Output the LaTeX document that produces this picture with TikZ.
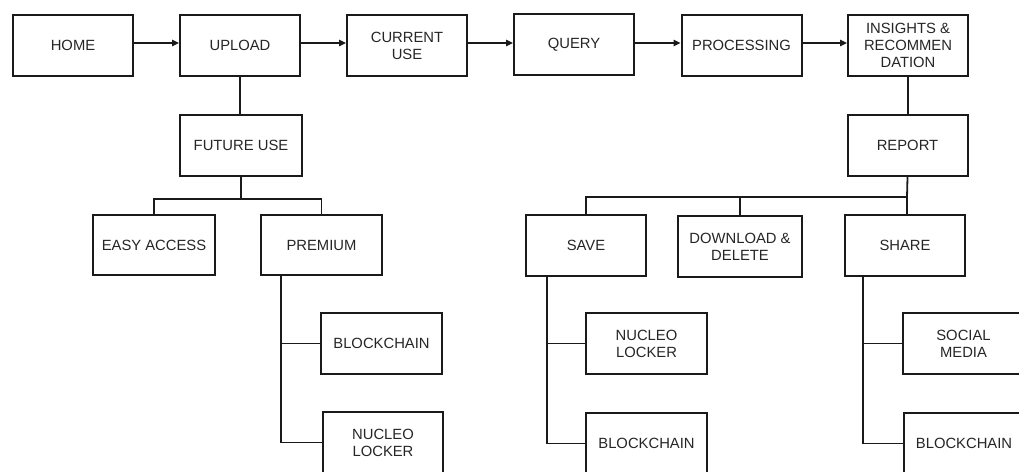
\documentclass[tikz,border=0pt]{standalone}
\usepackage{fontspec}
\setmainfont{Liberation Sans}
\usetikzlibrary{arrows.meta}
\definecolor{ink}{HTML}{1A1A1A}
\definecolor{txt}{HTML}{262626}
\tikzset{
  box/.style={draw=ink, line width=2pt, rectangle, minimum width=120pt, minimum height=61pt,
    inner sep=2pt, align=center, text=txt, font=\fontsize{14.8}{17}\selectfont},
  flow/.style={draw=ink, line width=1.3pt, -{Triangle[length=7pt,width=6.5pt]}},
  tree/.style={draw=ink, line width=1.8pt}
}
\begin{document}
\begin{tikzpicture}[x=1pt,y=-1pt]
\useasboundingbox (0,0) rectangle (1019,471);
\clip (0,0) rectangle (1019,471);
\fill[white] (0,0) rectangle (1019,471);
% top row
\node[box] (home) at (73,45.5) {HOME};
\node[box] (upload) at (240,45.5) {UPLOAD};
\node[box] (current) at (407,45.5) {CURRENT\\USE};
\node[box] (query) at (574,44.5) {QUERY};
\node[box] (proc) at (741.5,45.5) {PROCESSING};
\node[box] (ins) at (908,45.5) {INSIGHTS \&\\RECOMMEN\\DATION};
% second level
\node[box, minimum width=122pt] (future) at (241,145.5) {FUTURE USE};
\node[box] (report) at (907.5,145.5) {REPORT};
% third level left
\node[box, minimum width=122pt, minimum height=60pt] (easy) at (154,245) {EASY ACCESS};
\node[box, minimum width=121pt, minimum height=60pt] (premium) at (321.5,245) {PREMIUM};
% third level right
\node[box] (save) at (586,245.5) {SAVE};
\node[box, minimum width=124pt] (dl) at (740,246.5) {DOWNLOAD \&\\DELETE};
\node[box] (share) at (905,245.5) {SHARE};
% fourth level
\node[box, minimum width=121pt] (bc1) at (381.5,343.5) {BLOCKCHAIN};
\node[box] (nl1) at (383,442.5) {NUCLEO\\LOCKER};
\node[box, minimum width=121pt] (nl2) at (646.5,343.5) {NUCLEO\\LOCKER};
\node[box, minimum width=121pt] (bc2) at (646.5,443.5) {BLOCKCHAIN};
\node[box, minimum width=121pt] (sm) at (963.5,343.5) {SOCIAL\\MEDIA};
\node[box] (bc3) at (964,443.5) {BLOCKCHAIN};
% arrows
\draw[flow] ([yshift=2.5pt]home.east) -- ([yshift=2.5pt]upload.west);
\draw[flow] ([yshift=2.5pt]upload.east) -- ([yshift=2.5pt]current.west);
\draw[flow] ([yshift=2.5pt]current.east) -- ([yshift=1.5pt]query.west);
\draw[flow] ([yshift=1.5pt]query.east) -- ([yshift=2.5pt]proc.west);
\draw[flow] ([yshift=2.5pt]proc.east) -- ([yshift=2.5pt]ins.west);
% tree connectors
\draw[tree] (upload.south) -- (upload.south |- future.north);
\draw[tree] (ins.south) -- (ins.south |- report.north);
\coordinate (jl) at (241,199);
\draw[tree] (future.south) -- (jl);
\draw[tree] (jl) -| (easy.north);
\draw[tree] (jl) -| (premium.north);
\coordinate (jr) at (907,197);
\draw[tree] (report.south) -- (jr);
\draw[tree] (jr) -| (save.north);
\draw[tree] (jr) -| (dl.north);
\draw[tree] (jr) -- (jr |- share.north);
% spines
\coordinate (sp1) at (281,275);
\draw[tree] (sp1) |- (bc1.west);
\draw[tree] (sp1) |- (nl1.west);
\coordinate (sp2) at (547,276);
\draw[tree] (sp2) |- (nl2.west);
\draw[tree] (sp2) |- (bc2.west);
\coordinate (sp3) at (863,276);
\draw[tree] (sp3) |- (sm.west);
\draw[tree] (sp3) |- (bc3.west);
\end{tikzpicture}
\end{document}
